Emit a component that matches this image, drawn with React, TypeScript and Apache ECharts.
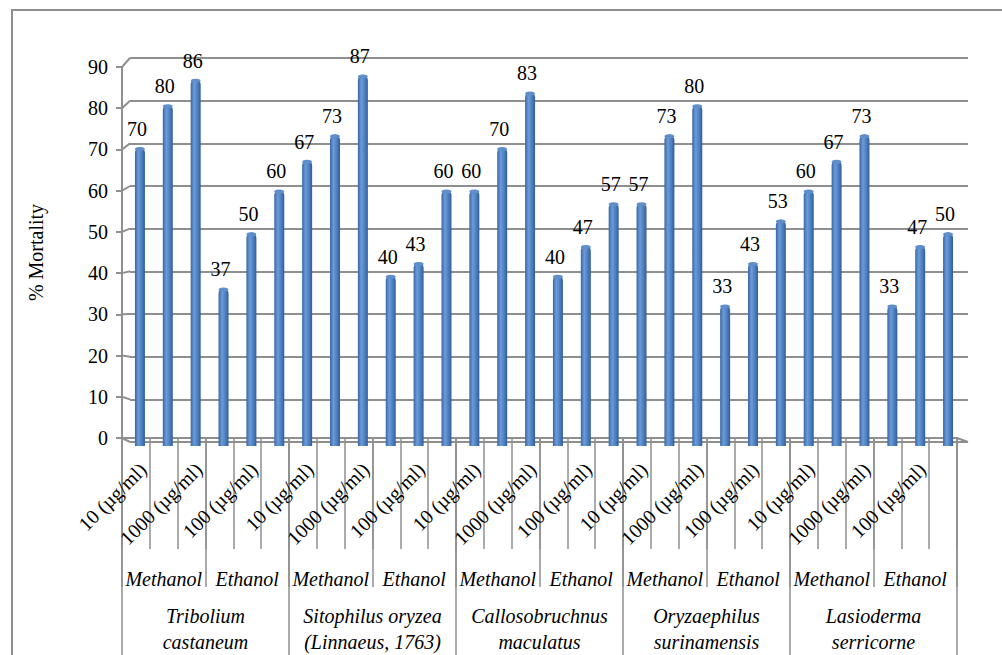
import React, { useEffect, useRef } from "react";
import * as echarts from "echarts";

// Concentration, solvent and species levels of the category table
const concentrations = ["10 (µg/ml)", "100 (µg/ml)", "1000 (µg/ml)"];
const solvents = ["Methanol", "Ethanol"];
const species = [
  "Tribolium\ncastaneum",
  "Sitophilus oryzea\n(Linnaeus, 1763)",
  "Callosobruchnus\nmaculatus",
  "Oryzaephilus\nsurinamensis",
  "Lasioderma\nserricorne",
];

// % mortality per species: Methanol 10/100/1000, then Ethanol 10/100/1000
const tribolium = [70, 80, 86, 37, 50, 60];
const sitophilus = [67, 73, 87, 40, 43, 60];
const callosobruchnus = [60, 70, 83, 40, 47, 57];
const oryzaephilus = [57, 73, 80, 33, 43, 53];
const lasioderma = [60, 67, 73, 33, 47, 50];

const yTicks = [0, 10, 20, 30, 40, 50, 60, 70, 80, 90];

const FONT = "Liberation Serif, DejaVu Serif, serif";
const GRAY = "#8f8f8f";

export default function App() {
  const ref = useRef<HTMLDivElement>(null);

  useEffect(() => {
    if (!ref.current) return;
    const chart = echarts.init(ref.current, undefined, { renderer: "svg" });

    const mortality = [
      ...tribolium,
      ...sitophilus,
      ...callosobruchnus,
      ...oryzaephilus,
      ...lasioderma,
    ];
    const concCats: string[] = [];
    const solventCats: string[] = [];
    species.forEach(() => {
      solvents.forEach((s) => {
        solventCats.push(s);
        concentrations.forEach((c) => concCats.push(c));
      });
    });

    const barGradient = new echarts.graphic.LinearGradient(0, 0, 1, 0, [
      { offset: 0, color: "#3a67a3" },
      { offset: 0.35, color: "#6b9bd9" },
      { offset: 0.7, color: "#4b7ec0" },
      { offset: 1, color: "#325d96" },
    ]);

    const hiddenCat = {
      type: "category",
      data: concCats,
      show: false,
    };

    chart.setOption({
      animation: false,
      textStyle: { fontFamily: FONT, color: "#000" },
      grid: [
        // back wall
        { left: 130, right: 34, top: 58, bottom: 213 },
        // bars (mid depth)
        { left: 126, right: 40, top: 62.5, bottom: 209 },
        // front plane with axes
        { left: 122, right: 45, top: 67, bottom: 206 },
      ],
      xAxis: [
        { ...hiddenCat, gridIndex: 0 },
        { ...hiddenCat, gridIndex: 1 },
        {
          type: "category",
          gridIndex: 2,
          data: concCats,
          position: "bottom",
          axisLine: { show: true, lineStyle: { color: GRAY, width: 2 } },
          axisTick: {
            show: true,
            interval: 0,
            length: 111,
            lineStyle: { color: GRAY, width: 1.5 },
          },
          axisLabel: {
            interval: 1,
            rotate: 45,
            margin: 21,
            verticalAlign: "top",
            fontSize: 20,
            fontFamily: FONT,
            color: "#000",
          },
        },
        {
          type: "category",
          gridIndex: 2,
          data: solventCats,
          position: "bottom",
          axisLine: { show: false },
          axisTick: {
            show: true,
            interval: 0,
            length: 149,
            lineStyle: { color: GRAY, width: 1.5 },
          },
          axisLabel: {
            interval: 0,
            margin: 131,
            fontSize: 20,
            lineHeight: 20,
            fontStyle: "italic",
            fontFamily: FONT,
            color: "#000",
          },
        },
        {
          type: "category",
          gridIndex: 2,
          data: species,
          position: "bottom",
          axisLine: { show: false },
          axisTick: {
            show: true,
            interval: 0,
            length: 230,
            lineStyle: { color: GRAY, width: 1.5 },
          },
          axisLabel: {
            interval: 0,
            margin: 165,
            fontSize: 20,
            lineHeight: 26,
            fontStyle: "italic",
            fontFamily: FONT,
            color: "#000",
          },
        },
      ],
      yAxis: [
        {
          type: "value",
          gridIndex: 0,
          min: 0,
          max: 90,
          interval: 10,
          axisLine: { show: false },
          axisTick: { show: false },
          axisLabel: { show: false },
          splitLine: { show: true, lineStyle: { color: GRAY, width: 2 } },
        },
        {
          type: "value",
          gridIndex: 1,
          min: 0,
          max: 90,
          interval: 10,
          show: false,
          splitLine: { show: false },
        },
        {
          type: "value",
          gridIndex: 2,
          min: 0,
          max: 90,
          interval: 10,
          name: "% Mortality",
          nameLocation: "middle",
          nameRotate: 90,
          nameGap: 76,
          nameTextStyle: { fontSize: 20, fontFamily: FONT, color: "#000" },
          axisLine: { show: true, lineStyle: { color: GRAY, width: 2 } },
          axisTick: { show: true, length: 6, lineStyle: { color: GRAY, width: 2 } },
          axisLabel: { margin: 14, fontSize: 20, fontFamily: FONT, color: "#000" },
          splitLine: { show: false },
        },
      ],
      series: [
        {
          type: "bar",
          xAxisIndex: 1,
          yAxisIndex: 1,
          data: mortality,
          barWidth: 10,
          itemStyle: { color: barGradient, borderRadius: [5, 5, 0, 0] },
          label: {
            show: true,
            position: "top",
            distance: 9,
            offset: [-3, 0],
            fontSize: 20,
            fontFamily: FONT,
            color: "#000",
          },
          z: 3,
        },
        {
          type: "pictorialBar",
          xAxisIndex: 1,
          yAxisIndex: 1,
          data: mortality,
          symbol: "circle",
          symbolSize: [10, 4],
          symbolPosition: "end",
          symbolOffset: [0, "-20%"],
          itemStyle: { color: "#5f8ecb" },
          z: 4,
        },
      ],
    });

    // 3D wall connectors: front axis ticks to back-wall gridlines, plus floor edge
    const lines: any[] = [];
    const gridFront = (chart as any).getModel().getComponent("grid", 2).coordinateSystem.getRect();
    const gridBack = (chart as any).getModel().getComponent("grid", 0).coordinateSystem.getRect();
    yTicks.forEach((v) => {
      const yF = chart.convertToPixel({ yAxisIndex: 2 }, v) as number;
      const yB = chart.convertToPixel({ yAxisIndex: 0 }, v) as number;
      lines.push({
        type: "line",
        shape: { x1: gridFront.x, y1: yF, x2: gridBack.x, y2: yB },
        style: { stroke: GRAY, lineWidth: 2 },
        silent: true,
      });
    });
    const yF0 = chart.convertToPixel({ yAxisIndex: 2 }, 0) as number;
    const yB0 = chart.convertToPixel({ yAxisIndex: 0 }, 0) as number;
    lines.push({
      type: "line",
      shape: {
        x1: gridFront.x + gridFront.width,
        y1: yF0,
        x2: gridBack.x + gridBack.width,
        y2: yB0,
      },
      style: { stroke: GRAY, lineWidth: 2 },
      silent: true,
    });

    chart.setOption({
      graphic: [
        {
          type: "rect",
          shape: { x: 12, y: 10, width: 1100, height: 800 },
          style: { fill: "none", stroke: GRAY, lineWidth: 2 },
          silent: true,
          z: -1,
        },
        ...lines,
      ],
    });

    return () => chart.dispose();
  }, []);

  return (
    <div
      ref={ref}
      style={{
        position: "fixed",
        left: 0,
        top: 0,
        width: 1002,
        height: 655,
        background: "#fff",
      }}
    />
  );
}
